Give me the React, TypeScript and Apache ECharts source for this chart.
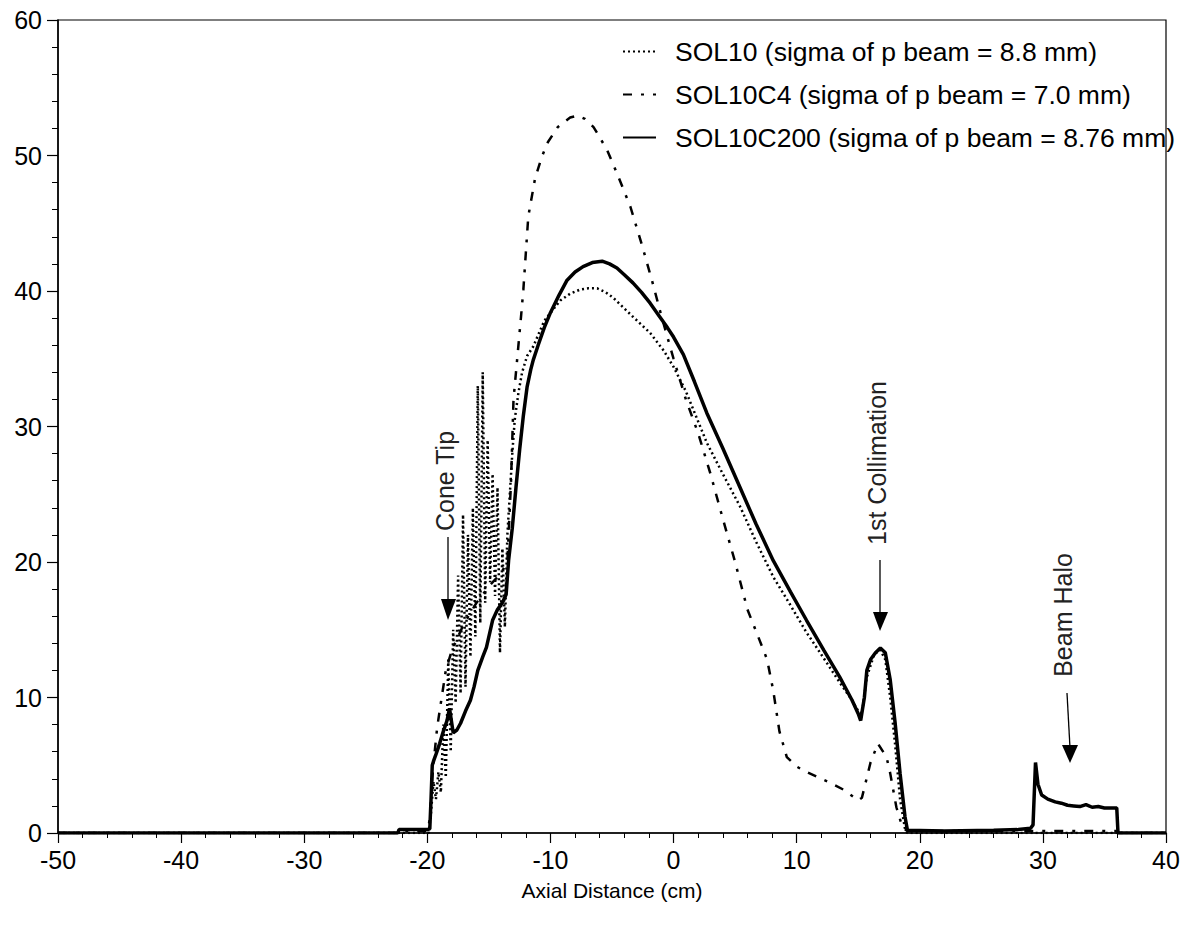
import React, { useEffect, useRef } from "react";
import * as echarts from "echarts";

const FONT = '"Liberation Sans", Arial, Helvetica, sans-serif';

const seriesNames = [
  "SOL10 (sigma of p beam = 8.8 mm)",
  "SOL10C4 (sigma of p beam = 7.0 mm)",
  "SOL10C200 (sigma of p beam = 8.76 mm)",
];

const xTicks = [-50, -40, -30, -20, -10, 0, 10, 20, 30, 40];
const yTicks = [0, 10, 20, 30, 40, 50, 60];

// SOL10 (dotted)
const sol10: [number, number][] = [
  [-50, 0], [-19.9, 0], [-19.7, 1.5], [-19.5, 3.8], [-19.3, 2.5], [-19.1, 4.5], [-18.9, 3],
  [-18.7, 8], [-18.5, 4.1], [-18.3, 12.8], [-18.1, 6], [-17.9, 15], [-17.7, 9.6], [-17.5, 19],
  [-17.3, 10.3], [-17.1, 23.5], [-16.9, 10.8], [-16.7, 22], [-16.5, 13], [-16.3, 24], [-16.1, 14.5],
  [-15.9, 33], [-15.7, 15.5], [-15.5, 34], [-15.3, 17], [-15.1, 29], [-14.9, 18.5], [-14.7, 26.5],
  [-14.5, 17.5], [-14.3, 25.5], [-14.1, 13.3], [-13.9, 21], [-13.7, 15.2], [-13.5, 22], [-13.3, 25],
  [-13.1, 28], [-12.9, 30.5], [-12.6, 32.5], [-12.3, 34], [-11.9, 35.2], [-11.4, 35.9], [-10.5, 37.8],
  [-9.2, 39.3], [-8.4, 39.8], [-7.6, 40.1], [-6.9, 40.2], [-6.2, 40.2], [-5.5, 39.9], [-4.9, 39.5],
  [-4.1, 38.8], [-3.3, 38.1], [-2.6, 37.5], [-1.9, 36.9], [-0.8, 35.6], [0, 34.4], [1, 32.6],
  [2.7, 28.8], [4, 26.5], [5.4, 24.1], [6.7, 21.5], [8.1, 18.9], [9.5, 16.8], [10.8, 14.8],
  [12.2, 12.9], [13.5, 11.1], [14.5, 9.8], [15.0, 9.0], [15.3, 8.8], [15.7, 11.5], [16.3, 13.2],
  [16.8, 13.5], [17.2, 12.8], [17.6, 10], [18.0, 6.5], [18.4, 2.5], [18.8, 0.3], [19, 0], [40, 0],
];

// SOL10C4 (dash-dot)
const sol10c4: [number, number][] = [
  [-50, 0], [-22, 0], [-21.8, 0.15], [-20, 0.15], [-19.8, 1], [-19.6, 4], [-19.4, 6], [-19.2, 7.8],
  [-18.9, 9.6], [-18.5, 12], [-18.0, 13.5], [-17.5, 14.5], [-17.0, 15.5], [-16.0, 17], [-15.0, 18.2],
  [-14.0, 19.2], [-13.5, 20], [-13.2, 26], [-13.0, 32], [-12.7, 35], [-12.4, 38], [-12.2, 40.1],
  [-11.8, 45.5], [-11.25, 48.3], [-10.7, 49.9], [-10.2, 51], [-9.4, 52.1], [-8.4, 52.8], [-7.8, 52.95],
  [-7.2, 52.7], [-6.5, 52.1], [-6.1, 51.5], [-5.4, 50.4], [-4.6, 48.7], [-3.5, 46.2], [-2.6, 43.5],
  [-1.7, 40.6], [-1.0, 38.2], [0, 35], [1, 32], [2, 29.5], [3, 26.5], [4, 23.2], [5, 20], [6, 16.5],
  [7, 14.2], [7.6, 12.8], [8.1, 10.5], [8.6, 7.5], [9.2, 5.6], [10, 4.9], [10.8, 4.5], [12.5, 3.8],
  [13.8, 3.2], [15.0, 2.4], [15.3, 2.6], [16.0, 5.2], [16.6, 6.6], [17.3, 5.6], [17.6, 4.4],
  [18.1, 1.9], [18.6, 0.4], [19, 0.15], [36, 0.15], [36.2, 0], [40, 0],
];

// SOL10C200 (solid)
const sol10c200: [number, number][] = [
  [-50, 0], [-22.4, 0], [-22.3, 0.25], [-20.0, 0.25], [-19.8, 0.3], [-19.7, 2.5], [-19.6, 5.0],
  [-19.5, 5.3], [-19.3, 5.8], [-19.0, 6.6], [-18.7, 7.5], [-18.4, 8.3], [-18.2, 9.2], [-17.9, 7.4],
  [-17.6, 7.6], [-17.3, 8.1], [-16.9, 9.0], [-16.5, 9.8], [-16.2, 10.8], [-15.9, 12.0], [-15.5, 13.0],
  [-15.2, 13.7], [-14.7, 15.7], [-14.3, 16.5], [-13.9, 17.0], [-13.6, 17.6], [-13.4, 20.1],
  [-13.1, 22.5], [-12.8, 25.5], [-12.5, 28.3], [-12.2, 30.8], [-11.9, 32.9], [-11.6, 34.2],
  [-11.4, 34.9], [-11.0, 36.0], [-10.5, 37.3], [-10.0, 38.4], [-9.3, 39.7], [-8.65, 40.8],
  [-8.0, 41.4], [-7.35, 41.8], [-6.6, 42.1], [-5.8, 42.2], [-5.2, 42.0], [-4.6, 41.7], [-4.0, 41.2],
  [-3.3, 40.6], [-2.6, 39.9], [-1.9, 39.1], [-1.2, 38.2], [-0.5, 37.3], [0, 36.6], [0.8, 35.3],
  [1.7, 33.3], [2.7, 31.0], [4.0, 28.4], [5.4, 25.5], [6.7, 22.8], [8.1, 20.1], [9.5, 17.8],
  [10.8, 15.7], [12.2, 13.5], [13.5, 11.5], [14.5, 9.8], [15.0, 8.8], [15.2, 8.3], [15.5, 10.0],
  [15.7, 12.0], [16.0, 12.8], [16.4, 13.3], [16.8, 13.65], [17.2, 13.3], [17.6, 11.3], [18.0, 8.1],
  [18.4, 4.4], [18.8, 1.2], [19.0, 0.2], [22, 0.15], [26, 0.2], [28, 0.25], [29.0, 0.35],
  [29.2, 0.6], [29.4, 5.2], [29.6, 3.6], [29.9, 2.8], [30.4, 2.5], [31.0, 2.3], [31.5, 2.2],
  [32.0, 2.05], [32.5, 2.0], [33.0, 1.95], [33.5, 2.1], [34.0, 1.9], [34.5, 1.95], [35.0, 1.85],
  [35.5, 1.85], [36.0, 1.85], [36.1, 0], [40, 0],
];

export default function App() {
  const ref = useRef<HTMLDivElement>(null);

  useEffect(() => {
    if (!ref.current) return;
    const chart = echarts.init(ref.current, undefined, { renderer: "svg" });

    const annotationText = (text: string, x: number, y: number) => ({
      type: "text",
      x,
      y,
      rotation: Math.PI / 2,
      style: {
        text,
        fontSize: 25,
        fontFamily: FONT,
        fill: "#222",
        align: "center",
        verticalAlign: "middle",
      },
      z: 100,
    });
    const shaft = (x1: number, y1: number, x2: number, y2: number) => ({
      type: "line",
      shape: { x1, y1, x2, y2 },
      style: { stroke: "#000", lineWidth: 1.3 },
      z: 100,
    });
    const head = (pts: number[][]) => ({
      type: "polygon",
      shape: { points: pts },
      style: { fill: "#000" },
      z: 100,
    });

    chart.setOption({
      animation: false,
      backgroundColor: "#fff",
      textStyle: { fontFamily: FONT },
      grid: {
        left: 58,
        right: 18,
        top: 20,
        bottom: 95,
        show: true,
        borderColor: "#000",
        borderWidth: 1.2,
        backgroundColor: "transparent",
      },
      legend: {
        orient: "vertical",
        left: 617,
        top: 33,
        itemWidth: 33,
        itemHeight: 14,
        itemGap: 16,
        data: seriesNames,
        itemStyle: { opacity: 0 },
        textStyle: {
          fontSize: 26.5,
          fontFamily: FONT,
          color: "#000",
          padding: [0, 0, 0, 14],
        },
      },
      xAxis: {
        type: "value",
        min: xTicks[0],
        max: xTicks[xTicks.length - 1],
        interval: 10,
        name: "Axial Distance (cm)",
        nameLocation: "middle",
        nameGap: 47,
        nameTextStyle: { fontSize: 21, fontFamily: FONT, color: "#000" },
        axisLine: { onZero: false, lineStyle: { color: "#000", width: 1.5 } },
        axisTick: { length: 10, lineStyle: { color: "#000", width: 1.2 } },
        minorTick: { show: true, splitNumber: 5, length: 5, lineStyle: { color: "#000", width: 1 } },
        axisLabel: { fontSize: 25, color: "#000", margin: 14, fontFamily: FONT },
        splitLine: { show: false },
      },
      yAxis: {
        type: "value",
        min: yTicks[0],
        max: yTicks[yTicks.length - 1],
        interval: 10,
        axisLine: { show: true, onZero: false, lineStyle: { color: "#000", width: 1.5 } },
        axisTick: { show: true, length: 11, lineStyle: { color: "#000", width: 1.2 } },
        minorTick: { show: true, splitNumber: 5, length: 6, lineStyle: { color: "#000", width: 1 } },
        axisLabel: { fontSize: 25, color: "#000", margin: 16, fontFamily: FONT },
        splitLine: { show: false },
      },
      series: [
        {
          name: seriesNames[0],
          type: "line",
          data: sol10,
          symbol: "none",
          color: "#000",
          itemStyle: { color: "#000" },
          lineStyle: { color: "#000", width: 2.5, type: [2, 3] },
          z: 3,
        },
        {
          name: seriesNames[1],
          type: "line",
          data: sol10c4,
          symbol: "none",
          color: "#000",
          itemStyle: { color: "#000" },
          lineStyle: { color: "#000", width: 2.5, type: [9, 9, 3, 9] },
          z: 4,
        },
        {
          name: seriesNames[2],
          type: "line",
          data: sol10c200,
          symbol: "none",
          color: "#000",
          itemStyle: { color: "#000" },
          lineStyle: { color: "#000", width: 3.5 },
          z: 5,
        },
      ],
      graphic: [
        annotationText("Cone Tip", 445, 481),
        shaft(448, 537, 448, 602),
        head([[441, 599], [456, 599], [448, 620]]),
        annotationText("1st Collimation", 877, 463),
        shaft(880, 560, 880, 615),
        head([[873, 612], [888, 612], [880, 631]]),
        annotationText("Beam Halo", 1063, 615),
        shaft(1067, 693, 1070, 748),
        head([[1062, 745], [1078, 745], [1070, 763]]),
      ],
    });

    return () => chart.dispose();
  }, []);

  return (
    <div
      ref={ref}
      style={{ position: "absolute", left: 0, top: 0, width: 1184, height: 928, background: "#fff" }}
    />
  );
}
